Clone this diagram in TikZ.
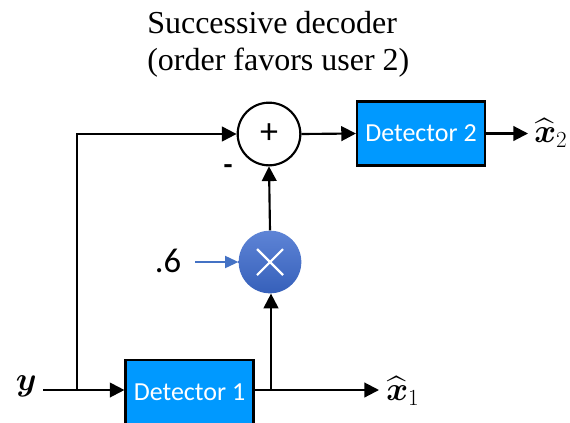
\documentclass[tikz,border=0pt]{standalone}
\usepackage{amsmath}
\usepackage{fontspec}
\setmainfont{Liberation Serif}
\newfontfamily\titlefont{Liberation Serif}
\newfontfamily\labelfont{Carlito}
\usetikzlibrary{arrows.meta,calc}
\definecolor{detblue}{RGB}{0,153,255}
\definecolor{multtop}{RGB}{94,132,214}
\definecolor{multbot}{RGB}{54,96,186}
\definecolor{gainblue}{RGB}{68,114,196}
\tikzset{
  wire/.style={line width=1.6pt, -{Triangle[length=11pt,width=11pt]}},
  plainwire/.style={line width=1.6pt},
  detbox/.style={draw=black, line width=1.6pt, fill=detblue, minimum width=96pt,
    minimum height=48pt, inner sep=0pt, text=white, font=\labelfont\fontsize{19.5}{22}\selectfont},
  sumnode/.style={circle, draw=black, line width=1.6pt, fill=white, minimum size=47pt, inner sep=0pt,
    font=\labelfont\fontsize{27}{30}\selectfont},
  multnode/.style={circle, top color=multtop, bottom color=multbot, draw=none,
    minimum size=47pt, inner sep=0pt},
  mathlabel/.style={inner sep=0pt, font=\fontsize{24}{28}\selectfont},
  titletext/.style={anchor=base west, inner sep=0pt, font=\titlefont\fontsize{24}{28}\selectfont}
}
\begin{document}
\begin{tikzpicture}[x=0.75pt, y=-0.75pt]
\useasboundingbox (0,0) rectangle (570,422);

% title
\node[titletext] (t1) at (147,33) {Successive decoder};
\node[titletext] (t2) at (147,70.5) {(order favors user 2)};

% blocks
\node[sumnode] (sum) at (269,134) {+};
\node[detbox] (det2) at (421,133.5) {Detector 2};
\node[multnode] (mult) at (270,262) {};
\node[detbox] (det1) at (189.5,392) {Detector 1};

% multiplier cross
\draw[white, line width=1.6pt] ($(mult.center)+(-13,-13)$) -- ($(mult.center)+(13,13)$);
\draw[white, line width=1.6pt] ($(mult.center)+(-13,13)$) -- ($(mult.center)+(13,-13)$);

% labels
\node[mathlabel, anchor=east] (yin) at (37,386) {$\boldsymbol{y}$};
\node[mathlabel, anchor=west] (xh1) at (386,391) {$\widehat{\boldsymbol{x}}_1$};
\node[mathlabel, anchor=west] (xh2) at (534,133) {$\widehat{\boldsymbol{x}}_2$};
\node[inner sep=0pt, font=\labelfont\fontsize{26}{30}\selectfont] (gain) at (168,261) {.6};
\node[inner sep=0pt, font=\labelfont\bfseries\fontsize{22}{24}\selectfont] (minus) at (228,170) {-};

% junction points
\coordinate (jin) at (77,390);
\coordinate (jout) at (271,390);
\coordinate (yend) at (43,390);
\coordinate (x1end) at (379,390);
\coordinate (x2end) at (528,133.5);

% connectors
\draw[plainwire] (yend) -- (jin);
\draw[wire] (jin) -- (det1.west |- jin);
\draw[wire] (jin) |- (sum.west);
\draw[plainwire] (det1.east |- jout) -- (jout);
\draw[wire] (jout) -- (x1end);
\draw[wire] (jout) -- (jout |- mult.south);
\draw[wire] (mult.north) -- (sum.south);
\draw[wire] (sum.east) -- (det2.west);
\draw[wire] (det2.east) -- (x2end);
\draw[gainblue, line width=1.4pt, -{Triangle[length=10pt,width=9pt]}] (195,262) -- (mult.west);
\end{tikzpicture}
\end{document}
